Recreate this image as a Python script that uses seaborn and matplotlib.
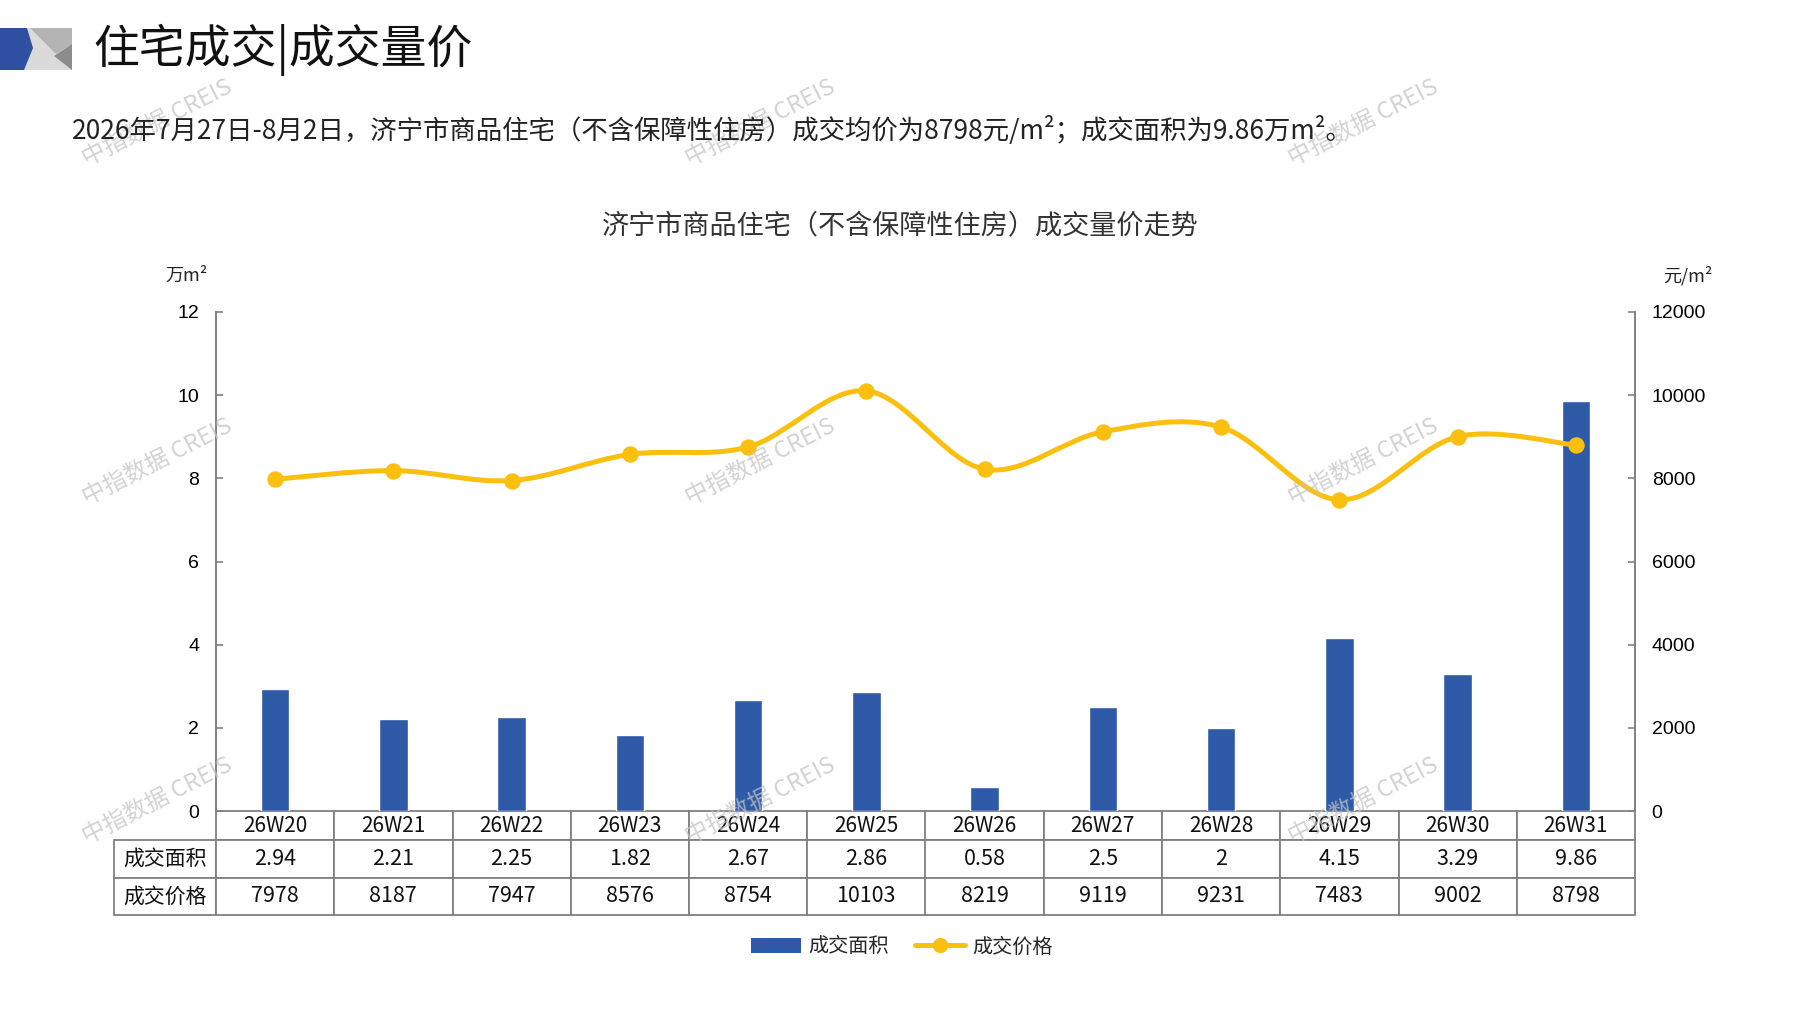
import numpy as np
import pandas as pd
import matplotlib
matplotlib.use("Agg")
import matplotlib.pyplot as plt
import seaborn as sns
from matplotlib.path import Path
from matplotlib.patches import PathPatch, Polygon, Patch
from matplotlib.lines import Line2D
from matplotlib.table import Table

# ---------------- data ----------------
weeks = ["26W20", "26W21", "26W22", "26W23", "26W24", "26W25",
         "26W26", "26W27", "26W28", "26W29", "26W30", "26W31"]
area = [2.94, 2.21, 2.25, 1.82, 2.67, 2.86, 0.58, 2.5, 2, 4.15, 3.29, 9.86]
price = [7978, 8187, 7947, 8576, 8754, 10103, 8219, 9119, 9231, 7483, 9002, 8798]
area_labels = ["2.94", "2.21", "2.25", "1.82", "2.67", "2.86", "0.58", "2.5", "2", "4.15", "3.29", "9.86"]
price_labels = ["7978", "8187", "7947", "8576", "8754", "10103", "8219", "9119", "9231", "7483", "9002", "8798"]
row_names = ["成交面积", "成交价格"]
left_ticks = [0, 2, 4, 6, 8, 10, 12]
right_ticks = [0, 2000, 4000, 6000, 8000, 10000, 12000]

BLUE = "#2E5AA8"
GOLD = "#FBBF10"
GRID = "#808080"
CJK = ["Noto Sans CJK SC", "DejaVu Sans"]
NUM = ["Liberation Sans", "Noto Sans CJK SC", "DejaVu Sans"]
NARROW = ["Liberation Sans Narrow", "Noto Sans CJK SC", "DejaVu Sans"]

sns.set_theme(style="white")
plt.rcParams["font.family"] = NUM
plt.rcParams["axes.unicode_minus"] = False

W, H = 1797, 1010
fig = plt.figure(figsize=(W / 100, H / 100), dpi=100)
fig.patch.set_facecolor("white")

def fx(x):
    return x / W

def fy(y):
    return 1 - y / H

# axes placement (pixels -> fractions)
L, R, T, B = 216, 1635, 312, 811
ax = fig.add_axes([fx(L), fy(B), fx(R) - fx(L), fy(T) - fy(B)])
ax.set_facecolor("none")

df = pd.DataFrame({"week": weeks, "area": area, "price": price})
sns.barplot(data=df, x="week", y="area", color=BLUE, saturation=1,
            width=0.24, ax=ax, zorder=2)
ax.set_xlim(-0.5, len(weeks) - 0.5)
ax.set_ylim(0, 12)
ax.set_yticks(left_ticks)
ax.set_yticklabels([str(t) for t in left_ticks])
ax.set_xlabel("")
ax.set_ylabel("")
ax.set_xticks([])
for s in ["top", "bottom", "right"]:
    ax.spines[s].set_visible(False)
ax.spines["left"].set_color(GRID)
ax.spines["left"].set_linewidth(1.4)
ax.tick_params(axis="y", direction="in", length=5, width=1.2, color=GRID,
               pad=12, labelsize=14, labelcolor="black")
ax.grid(False)

ax2 = ax.twinx()
ax2.set_facecolor("none")
ax2.set_ylim(0, 12000)
ax2.set_yticks(right_ticks)
ax2.set_yticklabels([str(t) for t in right_ticks])
for s in ["top", "bottom", "left"]:
    ax2.spines[s].set_visible(False)
ax2.spines["right"].set_color(GRID)
ax2.spines["right"].set_linewidth(1.4)
ax2.tick_params(axis="y", direction="in", length=5, width=1.2, color=GRID,
                pad=12, labelsize=14, labelcolor="black")
ax2.grid(False)

# smoothed price line (Catmull-Rom -> cubic Bezier) in data coordinates
xs = np.arange(len(weeks), dtype=float)
ys = np.asarray(price, dtype=float)
pts = np.column_stack([xs, ys])
ext = np.vstack([pts[0], pts, pts[-1]])
verts = [tuple(pts[0])]
codes = [Path.MOVETO]
for i in range(len(pts) - 1):
    p0, p1, p2, p3 = ext[i], ext[i + 1], ext[i + 2], ext[i + 3]
    c1 = p1 + (p2 - p0) / 6.0
    c2 = p2 - (p3 - p1) / 6.0
    verts += [tuple(c1), tuple(c2), tuple(p2)]
    codes += [Path.CURVE4] * 3
ax2.add_patch(PathPatch(Path(verts, codes), facecolor="none", edgecolor=GOLD,
                        lw=3.6, capstyle="round", joinstyle="round", zorder=3))
sns.scatterplot(x=xs, y=ys, color=GOLD, s=140, edgecolor=GOLD, linewidth=0,
                ax=ax2, zorder=4, legend=False)
ax2.set_xlim(-0.5, len(weeks) - 0.5)

# ---------------- table (cells in pixel units, fitted to bbox) ----------------
TL, TB = 114, 915
tbl = Table(ax, bbox=[(TL - L) / (R - L), -(TB - B) / (B - T),
                      (R - TL) / (R - L), (TB - B) / (B - T)])
col_w = (R - L) / len(weeks)
lab_w = L - TL
row_h = [29, 38, 37]
rows_text = [weeks, area_labels, price_labels]
for r in range(3):
    for c in range(len(weeks)):
        cell = tbl.add_cell(r, c + 1, width=col_w, height=row_h[r],
                            text=rows_text[r][c], loc="center",
                            facecolor="white", edgecolor=GRID)
        cell.set_linewidth(1.3)
        t = cell.get_text()
        t.set_family(NARROW)
        t.set_fontsize(15 if r == 0 else 15.5)
        t.set_color("#111111")
    if r > 0:
        cell = tbl.add_cell(r, 0, width=lab_w, height=row_h[r],
                            text=row_names[r - 1], loc="center",
                            facecolor="white", edgecolor=GRID)
        cell.set_linewidth(1.3)
        t = cell.get_text()
        t.set_family(CJK)
        t.set_fontsize(15)
        t.set_color("#111111")
tbl.auto_set_font_size(False)
ax.add_table(tbl)

# ---------------- texts ----------------
fig.text(fx(93), fy(50), "住宅成交|成交量价", family=CJK, fontsize=33,
         va="center", ha="left", color="#111111")
fig.text(fx(72), fy(130),
         "2026年7月27日-8月2日，济宁市商品住宅（不含保障性住房）成交均价为8798元/m²；成交面积为9.86万m²。",
         family=CJK, fontsize=19, va="center", ha="left", color="#222222")
fig.text(fx(900), fy(226), "济宁市商品住宅（不含保障性住房）成交量价走势",
         family=CJK, fontsize=19.5, va="center", ha="center", color="#333333")
fig.text(fx(186), fy(276), "万m²", family=CJK, fontsize=13,
         va="center", ha="center", color="#222222")
fig.text(fx(1688), fy(276), "元/m²", family=CJK, fontsize=13,
         va="center", ha="center", color="#222222")

# ---------------- logo ----------------
def poly(points, color):
    fig.patches.append(Polygon([(fx(x), fy(y)) for x, y in points], closed=True,
                               transform=fig.transFigure, facecolor=color,
                               edgecolor="none", zorder=1))

poly([(20, 28), (72, 28), (72, 70), (20, 70)], "#DADADA")
poly([(30, 28), (72, 28), (72, 44), (56, 54)], "#B4B4B4")
poly([(54, 56), (72, 44), (72, 70)], "#8C8C8C")
poly([(0, 28), (27, 28), (33, 48), (24, 70), (0, 70)], "#2F4FA2")

# ---------------- legend ----------------
handles = [Patch(facecolor=BLUE, edgecolor="none"),
           Line2D([], [], color=GOLD, lw=3.6, marker="o", markersize=10)]
leg = fig.legend(handles, ["成交面积", "成交价格"], loc="center",
                 bbox_to_anchor=(fx(902), fy(947)), ncol=2, frameon=False,
                 prop={"family": CJK, "size": 14.5}, handlelength=2.5,
                 handletextpad=0.35, columnspacing=1.3)

# ---------------- watermarks ----------------
for wy in (123, 462, 801):
    for wx in (157, 760, 1363):
        fig.text(fx(wx), fy(wy), "中指数据 CREIS", family=CJK, fontsize=17,
                 color="#C4C4C4", alpha=0.75, rotation=27, ha="center",
                 va="center", zorder=0)

fig.savefig("out.png", dpi=100, facecolor="white")
